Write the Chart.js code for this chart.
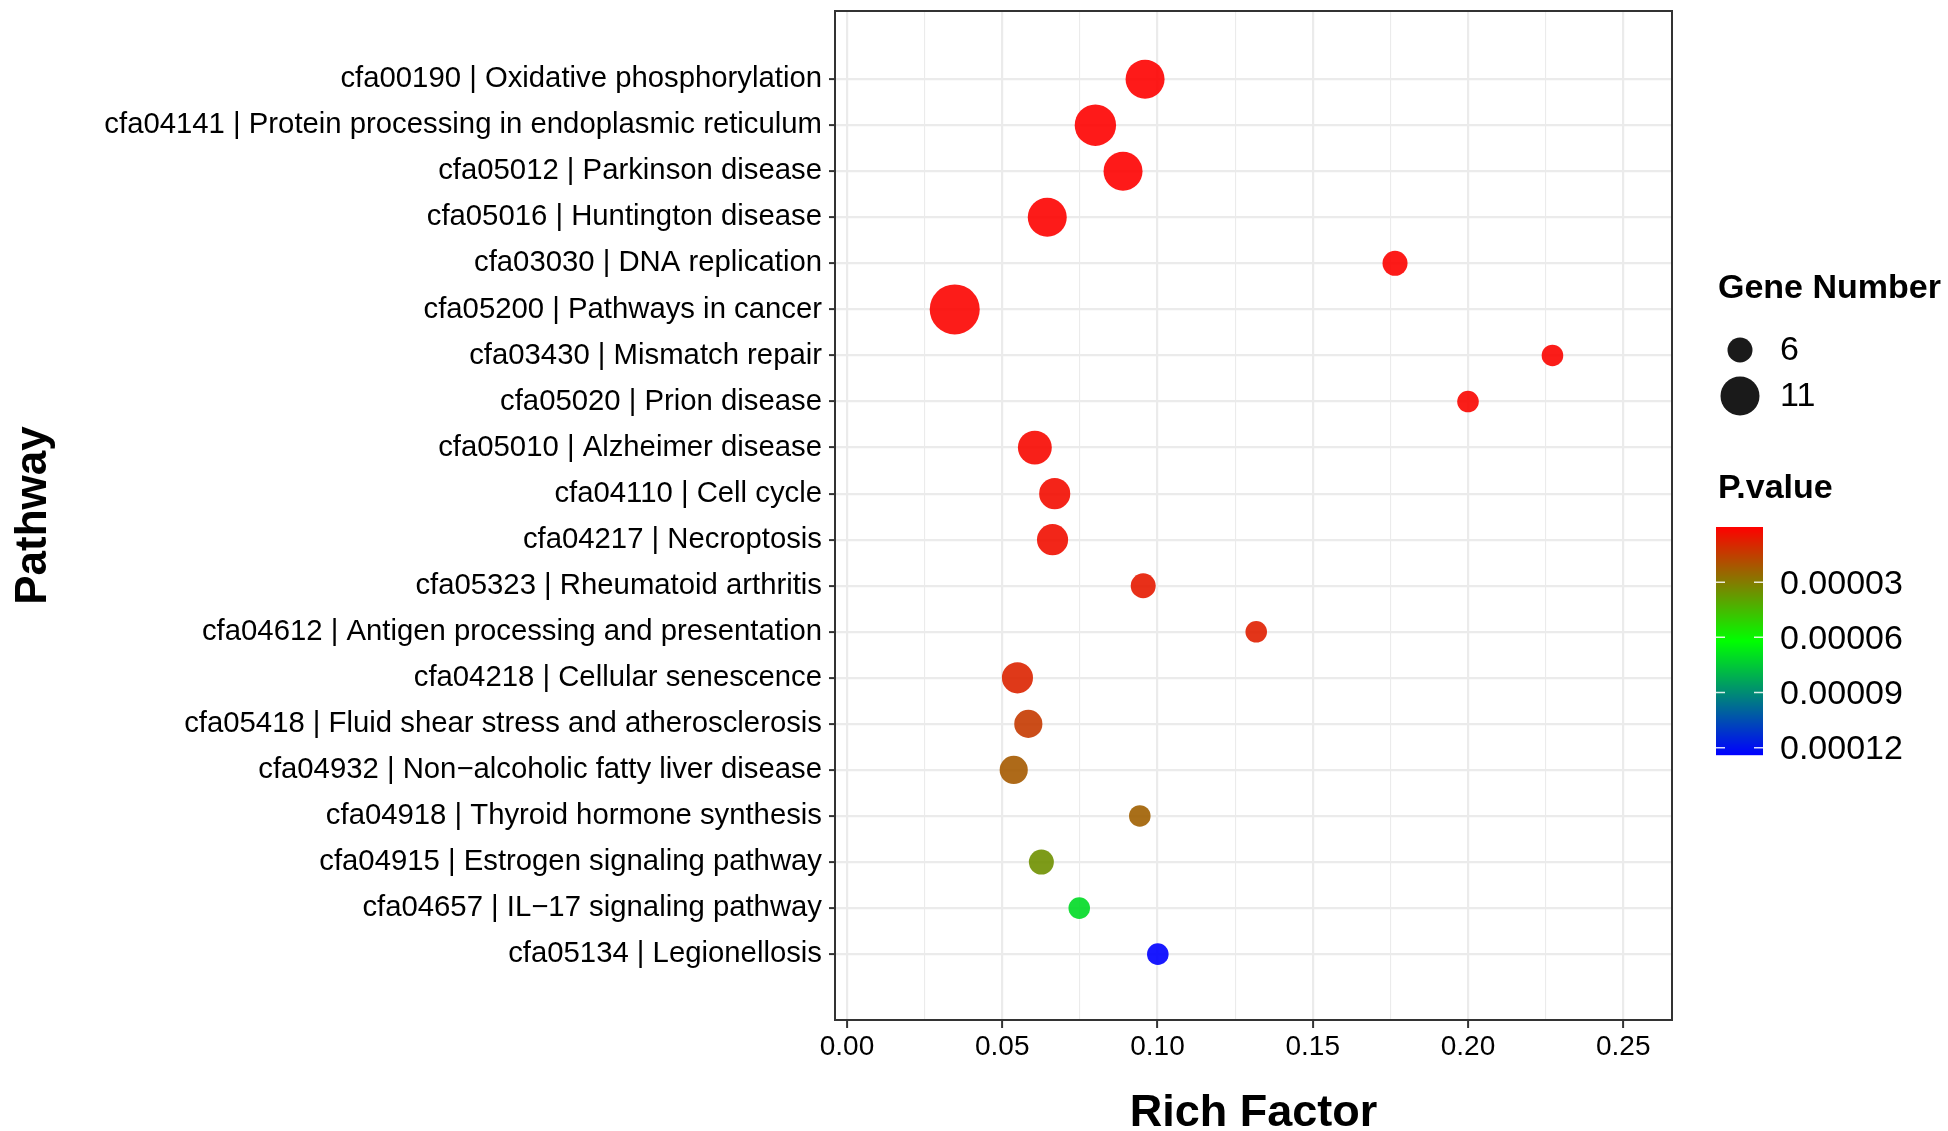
<!DOCTYPE html>
<html>
<head>
<meta charset="utf-8">
<script src="https://cdn.jsdelivr.net/npm/chart.js@4.4.1/dist/chart.umd.min.js"></script>
<style>
html,body{margin:0;padding:0;background:#fff;overflow:hidden}
#wrap{width:1948px;height:1131px;position:relative}
</style>
</head>
<body>
<div id="wrap"><canvas id="c" width="1948" height="1131"></canvas></div>
<script>
// ---------------- data ----------------
const pathways = [
  "cfa00190 | Oxidative phosphorylation",
  "cfa04141 | Protein processing in endoplasmic reticulum",
  "cfa05012 | Parkinson disease",
  "cfa05016 | Huntington disease",
  "cfa03030 | DNA replication",
  "cfa05200 | Pathways in cancer",
  "cfa03430 | Mismatch repair",
  "cfa05020 | Prion disease",
  "cfa05010 | Alzheimer disease",
  "cfa04110 | Cell cycle",
  "cfa04217 | Necroptosis",
  "cfa05323 | Rheumatoid arthritis",
  "cfa04612 | Antigen processing and presentation",
  "cfa04218 | Cellular senescence",
  "cfa05418 | Fluid shear stress and atherosclerosis",
  "cfa04932 | Non\u2212alcoholic fatty liver disease",
  "cfa04918 | Thyroid hormone synthesis",
  "cfa04915 | Estrogen signaling pathway",
  "cfa04657 | IL\u221217 signaling pathway",
  "cfa05134 | Legionellosis"
];
const richFactor = [0.0960, 0.0800, 0.0889, 0.0645, 0.1765, 0.0347, 0.2272, 0.2000, 0.0605, 0.0669,
                    0.0662, 0.0954, 0.1318, 0.0549, 0.0584, 0.0537, 0.0943, 0.0626, 0.0748, 0.1001];
const geneNumber = [11, 12, 11, 11, 6, 16, 5, 5, 9, 8,
                    8, 6, 5, 8, 7, 7, 5, 6, 5, 5];
const pValue = [2.0e-7, 3.0e-7, 2.5e-7, 4.0e-7, 6.0e-7, 8.0e-7, 1.0e-6, 1.5e-6, 2.0e-6, 2.8e-6,
                3.5e-6, 6.0e-6, 7.5e-6, 8.5e-6, 1.4e-5, 2.2e-5, 2.3e-5, 3.5e-5, 7.1e-5, 1.24e-4];
const xMajorTicks = [0, 0.05, 0.10, 0.15, 0.20, 0.25];
const xMinorTicks = [0.025, 0.075, 0.125, 0.175, 0.225];
const sizeLegendValues = [6, 11];
const pLegendTicks = [0.00003, 0.00006, 0.00009, 0.00012];
const pRange = [0, 0.000124];

// ---------------- helpers ----------------
const FONT = '"Liberation Sans", Arial, Helvetica, sans-serif';
Chart.defaults.font.family = FONT;

function radiusFor(n) { return (-14.5 + 16.13 * Math.sqrt(n)) / 2; }
function colorFor(p, alpha) {
  let t = (p - pRange[0]) / (pRange[1] - pRange[0]);
  t = Math.max(0, Math.min(1, t));
  let r, g, b;
  if (t <= 0.5) { const s = t * 2; r = 255 * (1 - s); g = 255 * s; b = 0; }
  else { const s = (t - 0.5) * 2; r = 0; g = 255 * (1 - s); b = 255 * s; }
  return `rgba(${Math.round(r)},${Math.round(g)},${Math.round(b)},${alpha})`;
}
function isMajorX(v) { return xMajorTicks.some(m => Math.abs(m - v) < 1e-9); }

const panelBorder = {
  id: 'panelBorder',
  beforeDatasetsDraw(chart) {
    const {ctx, chartArea: a} = chart;
    ctx.save();
    ctx.strokeStyle = '#333333';
    ctx.lineWidth = 2;
    ctx.strokeRect(a.left, a.top, a.right - a.left, a.bottom - a.top);
    ctx.restore();
  }
};

const legends = {
  id: 'legends',
  afterDraw(chart) {
    const ctx = chart.ctx;
    ctx.save();
    ctx.fillStyle = '#000';
    ctx.textAlign = 'left';
    ctx.textBaseline = 'alphabetic';
    ctx.font = `bold 34px ${FONT}`;
    ctx.fillText('Gene Number', 1718, 298);
    ctx.font = `34px ${FONT}`;
    ctx.textBaseline = 'middle';
    sizeLegendValues.forEach((n, i) => {
      const cy = 350 + i * 46;
      ctx.fillStyle = '#1A1A1A';
      ctx.beginPath();
      ctx.arc(1740, cy, radiusFor(n), 0, Math.PI * 2);
      ctx.fill();
      ctx.fillStyle = '#000';
      ctx.fillText(String(n), 1780, cy + 1);
    });
    // colour bar
    ctx.textBaseline = 'alphabetic';
    ctx.font = `bold 34px ${FONT}`;
    ctx.fillText('P.value', 1718, 498);
    const top = 527, h = 228, left = 1716, w = 47;
    for (let y = 0; y < h; y++) {
      const p = pRange[0] + (y + 0.5) / h * (pRange[1] - pRange[0]);
      ctx.fillStyle = colorFor(p, 1);
      ctx.fillRect(left, top + y, w, 1.2);
    }
    ctx.font = `34px ${FONT}`;
    ctx.textBaseline = 'middle';
    pLegendTicks.forEach(v => {
      const y = top + (v - pRange[0]) / (pRange[1] - pRange[0]) * h;
      ctx.strokeStyle = 'rgba(255,255,255,0.85)';
      ctx.lineWidth = 1.5;
      ctx.beginPath();
      ctx.moveTo(left, y); ctx.lineTo(left + 9, y);
      ctx.moveTo(left + w - 9, y); ctx.lineTo(left + w, y);
      ctx.stroke();
      ctx.fillStyle = '#000';
      ctx.fillText(v.toFixed(5), 1780, y + 2);
    });
    ctx.restore();
  }
};

new Chart(document.getElementById('c'), {
  type: 'scatter',
  data: {
    datasets: [{
      data: pathways.map((name, i) => ({x: richFactor[i], y: i + 1})),
      pointRadius: c => radiusFor(geneNumber[c.dataIndex]),
      pointHoverRadius: c => radiusFor(geneNumber[c.dataIndex]),
      pointBackgroundColor: c => colorFor(pValue[c.dataIndex], 0.9),
      pointBorderWidth: 0,
      pointBorderColor: 'rgba(0,0,0,0)',
      showLine: false
    }]
  },
  options: {
    responsive: false,
    animation: false,
    devicePixelRatio: 1,
    events: [],
    layout: {autoPadding: false, padding: {left: 0, right: 276, top: 11, bottom: 0}},
    plugins: {legend: {display: false}, tooltip: {enabled: false}},
    scales: {
      x: {
        type: 'linear',
        min: -0.00386,
        max: 0.2657,
        afterBuildTicks: s => {
          s.ticks = xMajorTicks.concat(xMinorTicks).sort((a, b) => a - b).map(v => ({value: v}));
        },
        afterFit: s => { s.height = 111; },
        ticks: {
          autoSkip: false, maxRotation: 0, minRotation: 0, padding: 2,
          color: '#000', font: {size: 28},
          callback: v => isMajorX(v) ? v.toFixed(2) : ''
        },
        grid: {
          color: '#EBEBEB',
          lineWidth: c => isMajorX(c.tick.value) ? 2.2 : 1.1,
          tickLength: 8,
          tickWidth: 2,
          tickColor: c => isMajorX(c.tick.value) ? '#333333' : 'rgba(0,0,0,0)'
        },
        border: {display: false},
        title: {display: true, text: 'Rich Factor', color: '#000', padding: 0,
                font: {size: 45, weight: 'bold', lineHeight: '34px'}}
      },
      y: {
        type: 'linear',
        reverse: true,
        min: -0.48,
        max: 21.43,
        afterBuildTicks: s => { s.ticks = pathways.map((n, i) => ({value: i + 1})); },
        afterFit: s => { s.width = 835; },
        ticks: {
          autoSkip: false, padding: 7, color: '#000', font: {size: 29.3, lineHeight: '1px'},
          callback: v => pathways[Math.round(v) - 1]
        },
        grid: {color: '#EBEBEB', lineWidth: 2.2, tickLength: 6, tickWidth: 2, tickColor: '#333333'},
        border: {display: false},
        title: {display: true, text: 'Pathway', color: '#000', padding: 0,
                font: {size: 44, weight: 'bold', lineHeight: '68px'}}
      }
    }
  },
  plugins: [panelBorder, legends]
});
</script>
</body>
</html>
